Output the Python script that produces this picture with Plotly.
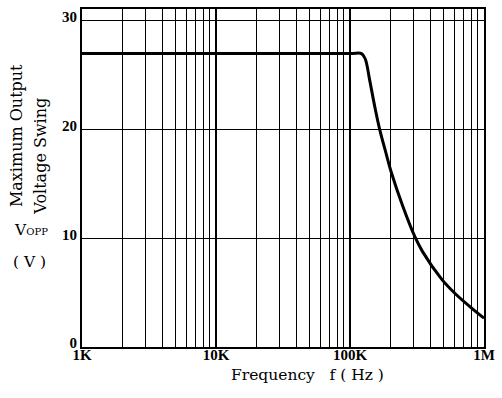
import plotly.graph_objects as go

# Data
freq_hz = [1e3, 1.0e5, 1.22e5, 1.30e5, 1.40e5, 1.52e5, 1.66e5, 1.86e5, 2.03e5,
           2.47e5, 3.06e5, 3.47e5, 4.86e5, 6.11e5, 7.88e5, 1.0e6]
vopp = [27.0, 27.0, 27.0, 26.5, 24.6, 22.3, 20.1, 17.8, 16.1,
        13.0, 10.1, 8.8, 6.2, 4.9, 3.7, 2.65]

x_tickvals = [1e3, 1e4, 1e5, 1e6]
x_ticktext = ["1K", "10K", "100K", "1M"]
y_tickvals = [0, 10, 20, 30]
y_ticktext = ["0", "10", "20", "30"]

TICKFONT = dict(family="Liberation Serif", size=15, color="black", weight="bold")
TITLEFONT = dict(family="DejaVu Serif", size=16, color="black")
XTITLEFONT = dict(family="DejaVu Serif", size=15.5, color="black")

fig = go.Figure()
fig.add_trace(go.Scatter(
    x=freq_hz, y=vopp, mode="lines",
    line=dict(color="black", width=3, shape="spline", smoothing=1.0),
    hoverinfo="skip", showlegend=False,
))

fig.update_layout(
    width=502, height=398,
    margin=dict(l=82, r=13, t=7, b=51),
    paper_bgcolor="white", plot_bgcolor="white",
    showlegend=False,
)

fig.update_xaxes(
    type="log", range=[3, 6],
    tickvals=x_tickvals, ticktext=x_ticktext,
    tickfont=TICKFONT, ticklabelstandoff=-7,
    showgrid=True, gridcolor="black", gridwidth=1.6,
    minor=dict(dtick="D1", showgrid=True, gridcolor="black", gridwidth=1.3, ticks=""),
    showline=True, linecolor="black", linewidth=2, mirror=True,
    ticks="", zeroline=False,
)
fig.update_yaxes(
    range=[0, 31.1],
    tickvals=y_tickvals, ticktext=y_ticktext,
    tickfont=TICKFONT, ticklabelshift=-4,
    showgrid=True, gridcolor="black", gridwidth=1.4,
    showline=True, linecolor="black", linewidth=2, mirror=True,
    ticks="", zeroline=False,
)

# Plot area: x 82..489 px, y 7..347 px
def px(xp):
    return (xp - 82) / 407.0

def py(yp):
    return (347 - yp) / 340.0

nb = "\u00a0"
annotations = [
    dict(text="Maximum Output", x=px(15), y=py(134), textangle=-90, font=TITLEFONT),
    dict(text="Voltage Swing", x=px(40), y=py(155), textangle=-90, font=TITLEFONT),
    dict(text="V<span style='font-size:10px'>OPP</span>", x=px(30), y=py(229), font=XTITLEFONT),
    dict(text="(" + nb + "V" + nb + ")", x=px(29), y=py(261), font=XTITLEFONT),
    dict(text="Frequency" + nb * 3 + "f" + nb + "(" + nb + "Hz" + nb + ")",
         x=px(310), y=py(375), font=XTITLEFONT),
]
for a in annotations:
    fig.add_annotation(
        xref="paper", yref="paper", showarrow=False,
        xanchor="center", yanchor="middle", **a,
    )

fig.write_html("out.html")
